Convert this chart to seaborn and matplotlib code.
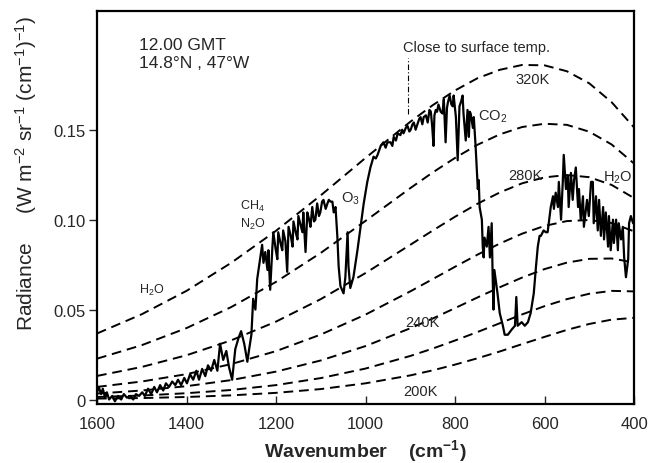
import matplotlib
matplotlib.use("Agg")
import matplotlib.pyplot as plt
import seaborn as sns
import pandas as pd

# Measured thermal-infrared emission spectrum (wavenumber in cm^-1, radiance in W m^-2 sr^-1 (cm^-1)^-1)
wavenumber = [
    1600, 1596, 1591, 1587, 1582, 1578, 1573, 1566, 1560, 1553, 1546, 1540, 1533, 1526, 1519,
    1513, 1506, 1499, 1493, 1486, 1479, 1472, 1466, 1459, 1452, 1446, 1439, 1432, 1425, 1419,
    1412, 1405, 1399, 1392, 1385, 1378, 1372, 1365, 1358, 1352, 1345, 1338, 1331, 1325, 1318,
    1311, 1305, 1298, 1291, 1284, 1278, 1271, 1264, 1260, 1255, 1251, 1246, 1242, 1235, 1231,
    1228, 1224, 1219, 1217, 1213, 1208, 1206, 1201, 1197, 1195, 1190, 1186, 1184, 1179, 1175,
    1172, 1167, 1163, 1161, 1156, 1152, 1150, 1145, 1141, 1139, 1134, 1130, 1126, 1123, 1119,
    1115, 1112, 1108, 1104, 1101, 1097, 1094, 1089, 1085, 1082, 1078, 1074, 1071, 1067, 1063,
    1060, 1056, 1049, 1045, 1040, 1038, 1034, 1027, 1018, 1011, 1004, 996, 989, 982, 977,
    973, 966, 960, 955, 951, 944, 940, 937, 932, 928, 922, 918, 915, 910, 906,
    902, 899, 895, 892, 888, 884, 880, 877, 873, 870, 865, 861, 857, 854, 851,
    848, 846, 843, 840, 837, 832, 828, 825, 821, 818, 816, 812, 808, 805, 803,
    798, 794, 790, 786, 783, 781, 776, 772, 769, 767, 765, 760, 758, 754, 749,
    747, 745, 740, 738, 736, 734, 729, 725, 722, 718, 716, 714, 712, 705, 700,
    693, 689, 682, 673, 666, 663, 660, 651, 644, 637, 631, 624, 619, 615, 611,
    608, 602, 597, 593, 586, 581, 579, 575, 570, 568, 563, 559, 557, 552, 548,
    546, 541, 537, 534, 530, 525, 523, 519, 514, 512, 505, 501, 496, 492, 490,
    485, 481, 478, 474, 469, 467, 463, 458, 456, 452, 447, 445, 440, 436, 434,
    429, 425, 422, 418, 413, 411, 407, 402,
]
radiance = [
    0.004, 0.007, 0.003, 0.006, 0.001, 0.004, 0.000, 0.002, -0.001, 0.002, 0.000, 0.003, 0.001, 0.002, 0.000,
    0.003, 0.002, 0.004, 0.002, 0.006, 0.003, 0.007, 0.004, 0.008, 0.005, 0.009, 0.007, 0.010, 0.008, 0.011,
    0.008, 0.012, 0.009, 0.014, 0.011, 0.016, 0.011, 0.017, 0.013, 0.019, 0.016, 0.022, 0.016, 0.031, 0.022,
    0.027, 0.018, 0.011, 0.028, 0.034, 0.038, 0.031, 0.021, 0.028, 0.036, 0.056, 0.050, 0.067, 0.079, 0.086,
    0.076, 0.082, 0.072, 0.083, 0.061, 0.085, 0.093, 0.084, 0.078, 0.093, 0.087, 0.083, 0.094, 0.088, 0.071,
    0.096, 0.091, 0.085, 0.099, 0.093, 0.089, 0.102, 0.097, 0.093, 0.104, 0.082, 0.104, 0.100, 0.096, 0.107,
    0.099, 0.100, 0.109, 0.102, 0.104, 0.110, 0.111, 0.106, 0.109, 0.111, 0.110, 0.110, 0.104, 0.107, 0.091,
    0.074, 0.063, 0.059, 0.068, 0.093, 0.074, 0.062, 0.068, 0.083, 0.096, 0.109, 0.121, 0.129, 0.135, 0.134,
    0.136, 0.141, 0.143, 0.140, 0.143, 0.143, 0.141, 0.146, 0.144, 0.148, 0.147, 0.150, 0.148, 0.151, 0.152,
    0.149, 0.150, 0.153, 0.154, 0.150, 0.153, 0.156, 0.157, 0.153, 0.157, 0.158, 0.154, 0.161, 0.160, 0.152,
    0.141, 0.158, 0.161, 0.160, 0.164, 0.160, 0.159, 0.167, 0.143, 0.162, 0.165, 0.169, 0.164, 0.163, 0.169,
    0.157, 0.133, 0.163, 0.166, 0.169, 0.159, 0.144, 0.161, 0.146, 0.160, 0.159, 0.151, 0.157, 0.141, 0.117,
    0.122, 0.107, 0.100, 0.085, 0.079, 0.090, 0.085, 0.096, 0.079, 0.098, 0.070, 0.050, 0.072, 0.059, 0.048,
    0.041, 0.036, 0.036, 0.039, 0.041, 0.057, 0.041, 0.043, 0.041, 0.043, 0.048, 0.059, 0.074, 0.085, 0.091,
    0.091, 0.094, 0.093, 0.093, 0.107, 0.113, 0.106, 0.115, 0.107, 0.121, 0.100, 0.122, 0.136, 0.117, 0.124,
    0.107, 0.126, 0.111, 0.122, 0.129, 0.107, 0.117, 0.100, 0.113, 0.096, 0.111, 0.102, 0.121, 0.121, 0.098,
    0.113, 0.094, 0.111, 0.091, 0.107, 0.089, 0.104, 0.085, 0.102, 0.083, 0.100, 0.087, 0.100, 0.083, 0.098,
    0.089, 0.096, 0.079, 0.068, 0.078, 0.098, 0.102, 0.098,
]

# Blackbody reference curves, tabulated radiance
bb_wavenumber = [1600, 1500, 1400, 1300, 1200, 1100, 1000, 900, 850, 800, 750, 700, 650, 600, 550, 500, 450, 400]
bb_200K = [0.0005, 0.0008, 0.0014, 0.0023, 0.0037, 0.0058, 0.0090, 0.0134, 0.0162, 0.0194, 0.0229, 0.0267,
           0.0308, 0.0348, 0.0387, 0.0420, 0.0444, 0.0454]
bb_220K = [0.0014, 0.0022, 0.0035, 0.0053, 0.0080, 0.0119, 0.0172, 0.0242, 0.0283, 0.0328, 0.0375, 0.0424,
           0.0473, 0.0519, 0.0558, 0.0588, 0.0604, 0.0601]
bb_240K = [0.0033, 0.0050, 0.0074, 0.0108, 0.0155, 0.0217, 0.0297, 0.0396, 0.0450, 0.0508, 0.0567, 0.0624,
           0.0678, 0.0725, 0.0761, 0.0782, 0.0784, 0.0762]
bb_260K = [0.0070, 0.0100, 0.0141, 0.0197, 0.0269, 0.0361, 0.0472, 0.0601, 0.0669, 0.0738, 0.0805, 0.0867,
           0.0922, 0.0965, 0.0992, 0.0998, 0.0981, 0.0935]
bb_280K = [0.0131, 0.0181, 0.0246, 0.0329, 0.0433, 0.0558, 0.0703, 0.0860, 0.0939, 0.1016, 0.1088, 0.1151,
           0.1202, 0.1235, 0.1248, 0.1236, 0.1193, 0.1120]
bb_300K = [0.0227, 0.0302, 0.0397, 0.0514, 0.0654, 0.0815, 0.0993, 0.1175, 0.1262, 0.1343, 0.1416, 0.1474,
           0.1515, 0.1533, 0.1527, 0.1489, 0.1418, 0.1312]
bb_320K = [0.0367, 0.0474, 0.0604, 0.0760, 0.0938, 0.1135, 0.1343, 0.1544, 0.1636, 0.1718, 0.1786, 0.1833,
           0.1860, 0.1858, 0.1825, 0.1758, 0.1653, 0.1513]
bb_curves = {200: bb_200K, 220: bb_220K, 240: bb_240K, 260: bb_260K,
             280: bb_280K, 300: bb_300K, 320: bb_320K}

x_ticks = [1600, 1400, 1200, 1000, 800, 600, 400]
y_ticks = [0, 0.05, 0.10, 0.15]
y_tick_labels = ["0", "0.05", "0.10", "0.15"]

sns.set_style("ticks")
plt.rcParams["font.family"] = ["Liberation Sans", "DejaVu Sans"]
plt.rcParams["mathtext.default"] = "regular"

fig = plt.figure(figsize=(6.6, 4.64), dpi=100)
ax = fig.add_axes([97 / 660, 1 - 405 / 464, 537 / 660, 393 / 464])

# Blackbody curves
bb_df = pd.DataFrame(
    [(t, w, r) for t, vals in bb_curves.items() for w, r in zip(bb_wavenumber, vals)],
    columns=["T", "wavenumber", "radiance"],
)
for t, grp in bb_df.groupby("T"):
    sns.lineplot(data=grp, x="wavenumber", y="radiance", ax=ax, color="black",
                 linewidth=1.4, linestyle=(0, (5, 3)), sort=False, estimator=None)

# Measured spectrum
spec = pd.DataFrame({"wavenumber": wavenumber, "radiance": radiance})
sns.lineplot(data=spec, x="wavenumber", y="radiance", ax=ax, color="black",
             linewidth=1.6, sort=False, estimator=None)

# Marker for the window channel
ax.plot([905, 905], [0.159, 0.190], color="black", linewidth=0.8, linestyle=(0, (5, 2, 1, 2)))

ax.set_xlim(1600, 400)
ax.set_ylim(-0.0025, 0.216)
ax.set_xticks(x_ticks)
ax.set_xticklabels([str(v) for v in x_ticks])
ax.set_yticks(y_ticks)
ax.set_yticklabels(y_tick_labels)
ax.tick_params(axis="x", direction="in", length=6, width=1.0, pad=9, labelsize=12)
ax.tick_params(axis="y", direction="out", length=6, width=1.0, pad=2, labelsize=12)
for s in ax.spines.values():
    s.set_linewidth(1.6)
    s.set_color("black")

ax.set_xlabel("Wavenumber    (cm$^{-1}$)", fontsize=14, fontweight="bold", labelpad=4)
ax.set_ylabel("Radiance     (W m$^{-2}$ sr$^{-1}$ (cm$^{-1}$)$^{-1}$)", fontsize=15)
ax.yaxis.set_label_coords(-0.108, 0.59)

# Annotations
ax.text(0.078, 0.935, "12.00 GMT\n14.8°N , 47°W", transform=ax.transAxes, fontsize=12.5,
        ha="left", va="top", linespacing=1.3)
ax.text(916, 0.196, "Close to surface temp.", fontsize=10.5, ha="left", va="center")
ax.text(626, 0.178, "320K", fontsize=10.5, ha="center", va="center")
ax.text(642, 0.125, "280K", fontsize=10.5, ha="center", va="center")
ax.text(873, 0.043, "240K", fontsize=10.5, ha="center", va="center")
ax.text(877, 0.005, "200K", fontsize=10.5, ha="center", va="center")
ax.text(749, 0.158, "CO$_2$", fontsize=10.5, ha="left", va="center")
ax.text(436, 0.124, "H$_2$O", fontsize=10.5, ha="center", va="center")
ax.text(1034, 0.112, "O$_3$", fontsize=10.5, ha="center", va="center")
ax.text(1253, 0.108, "CH$_4$", fontsize=9, ha="center", va="center")
ax.text(1251, 0.098, "N$_2$O", fontsize=9, ha="center", va="center")
ax.text(1477, 0.061, "H$_2$O", fontsize=9, ha="center", va="center")

fig.savefig("out.png", dpi=100)
